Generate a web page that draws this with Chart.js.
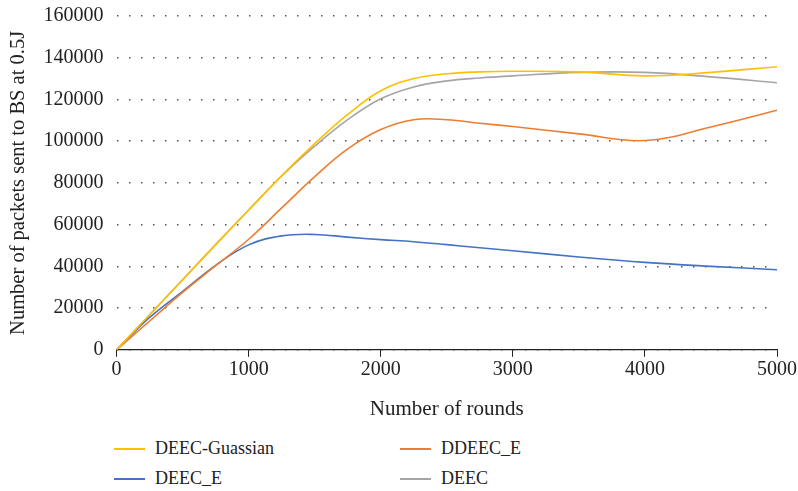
<!DOCTYPE html>
<html>
<head>
<meta charset="utf-8">
<script src="https://cdn.jsdelivr.net/npm/chart.js@4"></script>
<style>
  body { margin: 0; background: #fff; overflow: hidden; }
  #wrap { position: relative; width: 798px; height: 491px; overflow: hidden; }
  #c { position: absolute; left: 0; top: -9px; }
  .leg { position: absolute; font-family: 'Liberation Serif', serif; font-size: 18px; color: #222; display: flex; align-items: center; }
  .leg span.sw { display: inline-block; width: 31px; height: 2px; margin-right: 10px; }
</style>
</head>
<body>
<div id="wrap">
  <canvas id="c" width="798" height="435"></canvas>
  <div id="legend"></div>
</div>
<script>
/* series data */
const rounds   = [0, 250, 500, 750, 1000, 1250, 1500, 1750, 2000, 2250, 2500, 2750, 3000, 3500, 4000, 4500, 5000];
const deecGaus = [0, 16800, 33600, 50400, 67000, 83500, 98800, 112800, 124200, 130000, 132300, 133200, 133500, 133200, 131300, 133000, 135700];
const ddeecE   = [0, 13800, 27500, 40300, 53000, 68000, 83000, 96300, 105600, 110300, 110300, 108600, 107000, 103500, 100300, 106800, 114800];
const deecE    = [0, 15500, 28000, 40500, 50300, 54600, 55300, 54000, 52800, 51800, 50400, 48900, 47500, 44500, 41900, 40000, 38400];
const deec     = [0, 16800, 33600, 50400, 67000, 83300, 97600, 110300, 120300, 126000, 128900, 130300, 131300, 133000, 133000, 130800, 128000];
const yTicks   = [0, 20000, 40000, 60000, 80000, 100000, 120000, 140000, 160000];
const xTicks   = [0, 1000, 2000, 3000, 4000, 5000];

const series = [
  { label: 'DEEC-Guassian', data: deecGaus, color: '#FFC000' },
  { label: 'DDEEC_E',       data: ddeecE,   color: '#ED7D31' },
  { label: 'DEEC_E',        data: deecE,    color: '#4472C4' },
  { label: 'DEEC',          data: deec,     color: '#A5A5A5' },
];

const FONT = "'Liberation Serif', serif";

new Chart(document.getElementById('c').getContext('2d'), {
  type: 'line',
  data: {
    datasets: series.map(s => ({
      label: s.label,
      data: rounds.map((x, i) => ({ x, y: s.data[i] })),
      borderColor: s.color,
      borderWidth: 1.6,
      pointRadius: 0,
      tension: 0.4,
      fill: false,
    })),
  },
  options: {
    responsive: false,
    animation: false,
    layout: { padding: { left: 0, right: 18, top: 0, bottom: 0 } },
    plugins: { legend: { display: false }, tooltip: { enabled: false } },
    scales: {
      x: {
        type: 'linear', min: 0, max: 5000,
        afterBuildTicks: ax => { ax.ticks = xTicks.map(v => ({ value: v })); },
        grid: { drawOnChartArea: false, drawTicks: true, tickLength: 7, color: '#222' },
        border: { display: true, color: '#222', width: 1.2 },
        ticks: { color: '#222', font: { family: FONT, size: 20 }, padding: 1, maxRotation: 0, callback: v => String(v) },
        title: { display: true, text: 'Number of rounds', color: '#222', font: { family: FONT, size: 21 }, padding: { top: 14 } },
      },
      y: {
        min: 0, max: 160000,
        afterBuildTicks: ax => { ax.ticks = yTicks.map(v => ({ value: v })); },
        grid: { color: '#555', lineWidth: 1.5, drawTicks: false },
        border: { display: false, dash: [1.5, 10.5] },
        ticks: { color: '#222', font: { family: FONT, size: 20 }, padding: 13, callback: v => String(v) },
        title: { display: true, text: 'Number of packets sent to BS at 0.5J', color: '#222', font: { family: FONT, size: 20.5 }, padding: { top: 6, bottom: 0 } },
      },
    },
  },
});

// legend in two columns under the plot
const legend = document.getElementById('legend');
const pos = [[114, 438], [400, 438], [114, 468], [400, 468]];
series.forEach((s, i) => {
  const el = document.createElement('div');
  el.className = 'leg';
  el.style.left = pos[i][0] + 'px';
  el.style.top = pos[i][1] + 'px';
  el.innerHTML = `<span class="sw" style="background:${s.color}"></span>${s.label}`;
  legend.appendChild(el);
});
</script>
</body>
</html>
